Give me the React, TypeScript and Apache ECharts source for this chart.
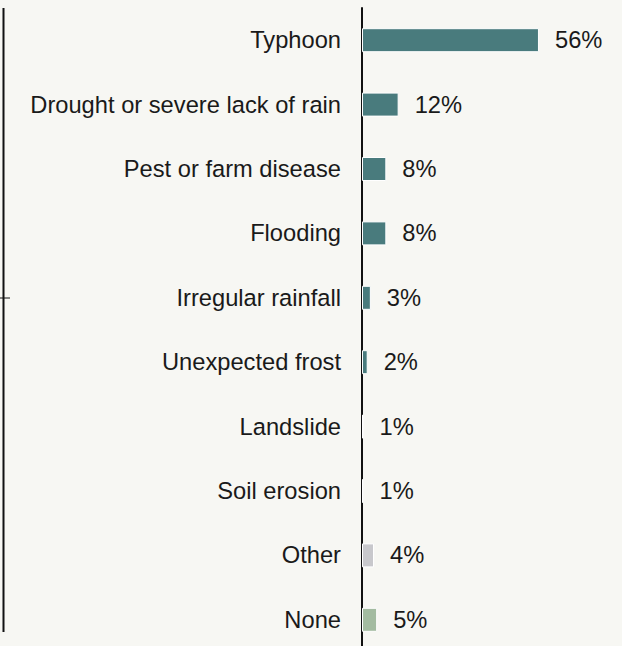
import React, { useEffect, useRef } from "react";
import * as echarts from "echarts";

const categories = [
  "Typhoon",
  "Drought or severe lack of rain",
  "Pest or farm disease",
  "Flooding",
  "Irregular rainfall",
  "Unexpected frost",
  "Landslide",
  "Soil erosion",
  "Other",
  "None",
];
const values = [56, 11.6, 7.7, 7.7, 2.8, 1.8, 0.5, 0.5, 3.8, 4.8];
const valueLabels = ["56%", "12%", "8%", "8%", "3%", "2%", "1%", "1%", "4%", "5%"];
const barColors = [
  "#497b7d", "#497b7d", "#497b7d", "#497b7d", "#497b7d", "#497b7d",
  "#e8ece8", "#8fa88c", "#c8c8cc", "#a3bba0",
];

export default function App() {
  const ref = useRef<HTMLDivElement>(null);
  useEffect(() => {
    if (!ref.current) return;
    const chart = echarts.init(ref.current, null, { renderer: "svg" });
    const font = "'Liberation Sans', Arial, Helvetica, sans-serif";
    chart.setOption({
      animation: false,
      backgroundColor: "#f7f7f3",
      grid: {
        left: 362,
        top: 8,
        width: 316,
        height: 644,
        containLabel: false,
        outerBoundsMode: "none",
      },
      xAxis: {
        type: "value",
        min: 0,
        max: 100,
        show: false,
      },
      yAxis: {
        type: "category",
        data: categories,
        inverse: true,
        axisLine: { show: true, lineStyle: { color: "#111", width: 2 } },
        axisTick: { show: false },
        axisLabel: {
          color: "#1a1a1a",
          fontSize: 23.7,
          fontFamily: font,
          margin: 21,
        },
      },
      series: [
        {
          type: "bar",
          barWidth: 24,
          data: values.map((v, i) => ({
            value: v,
            itemStyle: { color: barColors[i], borderColor: "#ffffff", borderWidth: 1 },
            label: {
              show: true,
              position: "right",
              distance: 16,
              formatter: valueLabels[i],
              color: "#1a1a1a",
              fontSize: 23.7,
              fontFamily: font,
            },
          })),
        },
      ],
      graphic: [
        {
          type: "line",
          shape: { x1: 3.5, y1: 8, x2: 3.5, y2: 632 },
          style: { stroke: "#111", lineWidth: 2 },
        },
        {
          type: "line",
          shape: { x1: 0, y1: 298, x2: 10, y2: 298 },
          style: { stroke: "#111", lineWidth: 1 },
        },
      ],
    });
    return () => chart.dispose();
  }, []);
  return (
    <div
      ref={ref}
      style={{ position: "fixed", left: 0, top: 0, width: 622, height: 646 }}
    />
  );
}
